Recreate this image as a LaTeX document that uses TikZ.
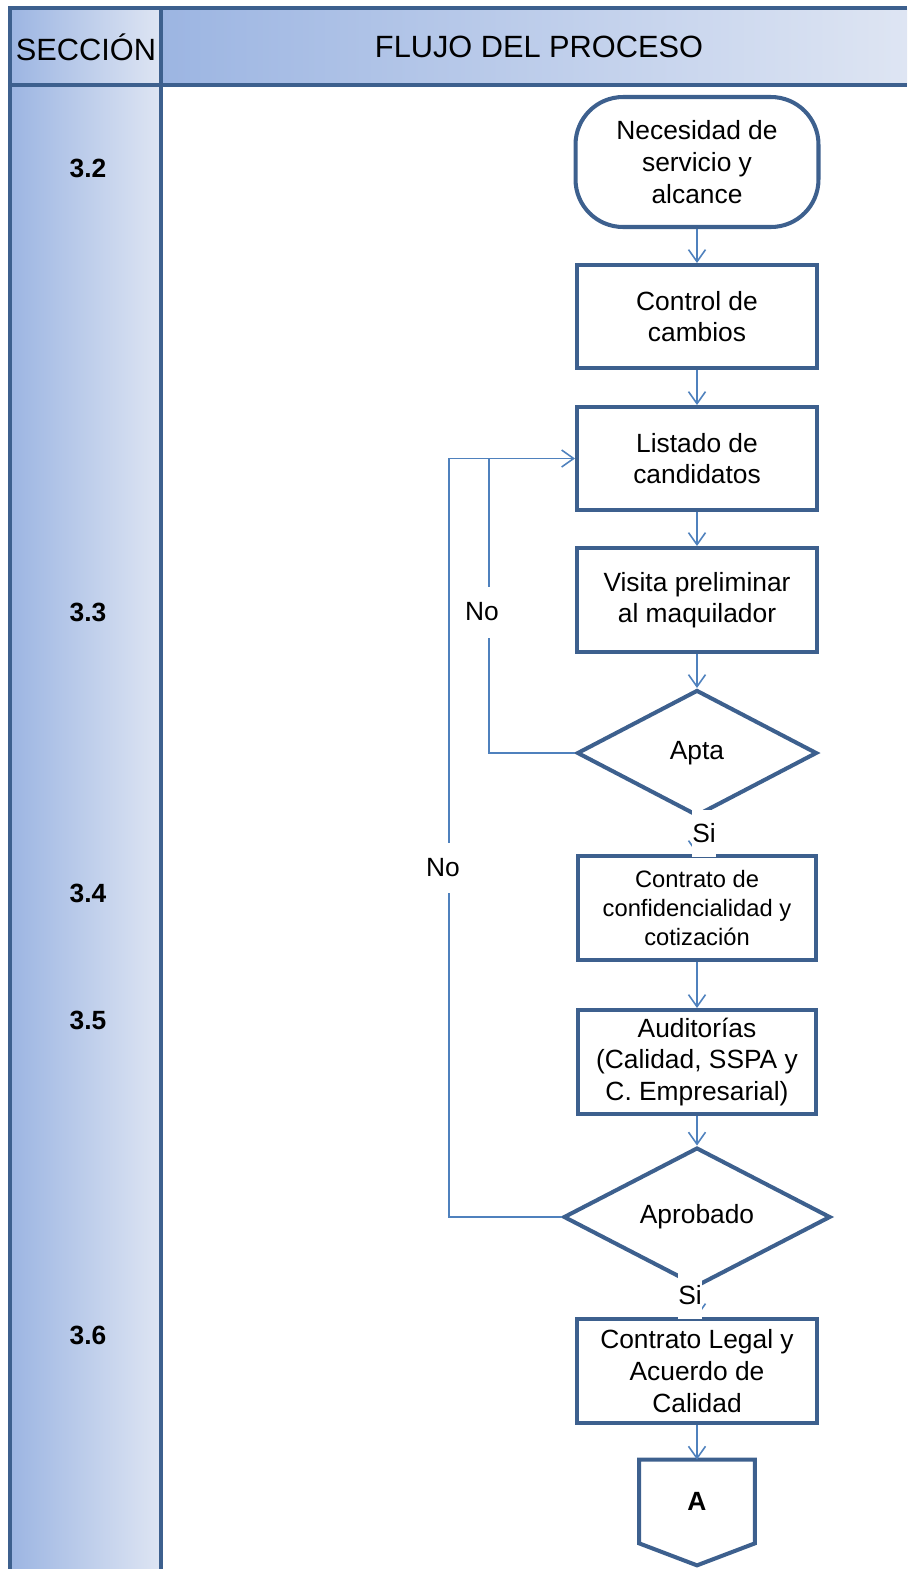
\documentclass[tikz,border=0pt]{standalone}
\usepackage{fontspec}
\setmainfont{Liberation Sans}
\usepackage{tikz}
\usetikzlibrary{shapes.geometric}
\usetikzlibrary{arrows.meta,calc}
\usepackage{xcolor}
\definecolor{borde}{RGB}{61,96,142}
\definecolor{linea}{RGB}{79,129,189}
\definecolor{oscuro}{RGB}{156,181,226}
\definecolor{claro}{RGB}{222,229,243}
\tikzstyle{caja}=[draw=borde, line width=2.3pt, minimum width=4.8cm, minimum height=2.06cm, align=center, inner sep=0pt, font=\fontsize{15}{18}\selectfont]
\tikzstyle{decision}=[caja, diamond]
\tikzstyle{flecha}=[draw=linea, line width=0.9pt, -{Straight Barb[length=2.4mm,width=3.4mm]}]
\tikzstyle{rama}=[draw=linea, line width=0.9pt]
\tikzstyle{etiqueta}=[fill=white, inner sep=0pt, minimum height=0.94cm, font=\fontsize{15}{18}\selectfont]
\tikzstyle{seccion}=[font=\fontsize{15}{18}\selectfont\bfseries]
\tikzstyle{titulo}=[font=\fontsize{17.5}{21}\selectfont]

\begin{document}
\begin{tikzpicture}[x=0.02cm, y=-0.02cm]
\useasboundingbox (0,0) rectangle (907,1569);
\shade[left color=oscuro, right color=claro] (10,8) rectangle (161,1569);
\shade[left color=oscuro, right color=claro] (161,8) rectangle (907,85);
\draw[borde, line width=2.2pt] (907,8) -- (10,8) -- (10,1569);
\draw[borde, line width=2.2pt] (10,85) -- (907,85);
\draw[borde, line width=2.2pt] (161,8) -- (161,1569);
\node[titulo] (hseccion) at (86,47) {SECCIÓN};
\node[titulo] (hflujo) at (539,47) {FLUJO DEL PROCESO};
\foreach \s/\y [count=\i] in {3.2/168,3.3/612,3.4/893,3.5/1020,3.6/1335} {
	\node[seccion] (sec\i) at (88,\y) {\s};
}

\node[caja, rounded corners=0.95cm, minimum width=4.86cm, minimum height=2.6cm] (necesidad) at (697,162) {Necesidad de\\servicio y\\alcance};
\node[caja] (control) at (697,316.5) {Control de\\cambios};
\node[caja] (listado) at (697,458.5) {Listado de\\candidatos};
\node[caja, minimum height=2.08cm] (visita) at (697,600) {Visita preliminar\\al maquilador};
\node[decision, minimum width=4.8cm, minimum height=2.52cm] (apta) at (697,753) {Apta};
\node[caja, minimum width=4.76cm, minimum height=2.08cm, font=\fontsize{13.5}{16.5}\selectfont] (confidencialidad) at (697,908) {Contrato de\\confidencialidad y\\cotización};
\node[caja, minimum width=4.76cm, minimum height=2.08cm] (auditorias) at (697,1062) {Auditorías\\(Calidad, SSPA y\\C. Empresarial)};
\node[decision, minimum width=5.34cm, minimum height=2.6cm] (aprobado) at (697,1217) {Aprobado};
\node[caja, minimum height=2.08cm] (legal) at (697,1371) {Contrato Legal y\\Acuerdo de\\Calidad};
\node[minimum width=2.3cm, minimum height=1.66cm, font=\fontsize{15}{18}\selectfont\bfseries] (conA) at (697,1501.5) {A};
\draw[borde, line width=2.3pt] (conA.north west) -- (conA.north east) -- (conA.south east) -- ($(conA.south)+(0,22)$) -- (conA.south west) -- cycle;

\draw[flecha] (necesidad.south) -- (control.north);
\draw[flecha] (control.south) -- (listado.north);
\draw[flecha] (listado.south) -- (visita.north);
\draw[flecha] (visita.south) -- (apta.north);
\draw[flecha] (apta.south) -- (confidencialidad.north);
\draw[flecha] (confidencialidad.south) -- (auditorias.north);
\draw[flecha] (auditorias.south) -- (aprobado.north);
\draw[flecha] (aprobado.south) -- (legal.north);
\draw[flecha] (legal.south) -- (conA.north);

\coordinate (r1) at (489,0);
\coordinate (r2) at (449,0);
\draw[flecha] (apta.west) -| (r1 |- listado.west) -- (listado.west);
\draw[rama] (aprobado.west) -| (r2 |- listado.west) -- (r1 |- listado.west);
\node[etiqueta, minimum height=1.02cm] (no1) at (482,612) {No};
\node[etiqueta, minimum height=1cm] (no2) at (443,868) {No};
\node[etiqueta] (si1) at (704,833) {Si};
\node[etiqueta] (si2) at (690,1295.5) {Si};
\end{tikzpicture}
\end{document}
